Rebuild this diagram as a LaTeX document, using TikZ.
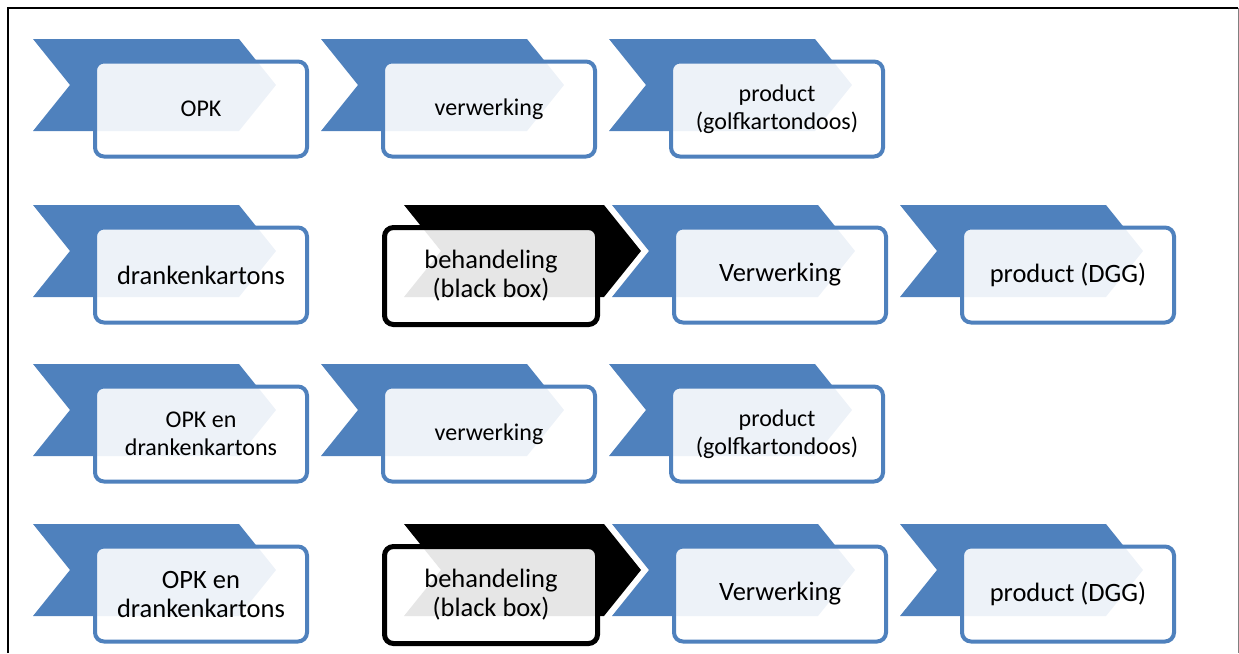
\documentclass[tikz,border=0pt]{standalone}
\usepackage{fontspec}
\setmainfont{Carlito}
\definecolor{accblue}{HTML}{4F81BD}
\tikzset{
  chevblue/.style={fill=accblue,draw=none},
  chevblack/.style={fill=black,draw=none},
  boxblue/.style={draw=accblue,line width=4pt,rounded corners=9pt,fill=white,fill opacity=0.9,text opacity=1,
     minimum width=212pt,minimum height=95pt,align=center,inner sep=2pt},
  boxblack/.style={boxblue,draw=black,line width=5pt,minimum width=213pt,minimum height=97pt},
  smalltxt/.style={font=\fontsize{24}{28}\selectfont},
  bigtxt/.style={font=\fontsize{26.5}{29}\selectfont},
}
% chevron: left x, top y, width
\newcommand{\mychev}[4]{%
  \fill[#4] (#1,#2) -- ({#1+#3-37},#2) -- ({#1+#3},{#2+46}) -- ({#1+#3-37},{#2+92}) -- (#1,{#2+92}) -- ({#1+37},{#2+46}) -- cycle;}
\begin{document}
\begin{tikzpicture}[x=1pt,y=-1pt]
\useasboundingbox (0,0) rectangle (1239,653);
% frame
\draw[black,line width=2pt] (8,653) coordinate (fbl) -- (8,8) coordinate (ftl) -- (1238,8) coordinate (ftr);
\draw[gray,line width=1pt] (ftr) -- (1238,653);
% row 1
\mychev{33}{39}{243}{chevblue}
\mychev{321}{39}{243}{chevblue}
\mychev{609}{39}{243}{chevblue}
\node[boxblue,smalltxt] (a1) at (201,109) {OPK};
\node[boxblue,smalltxt] (a2) at (489,109) {verwerking};
\node[boxblue,smalltxt] (a3) at (777,109) {product\\(golfkartondoos)};
% row 2
\mychev{33}{205}{243}{chevblue}
\mychev{404}{205}{237}{chevblack}
\mychev{612}{205}{243}{chevblue}
\mychev{900}{205}{243}{chevblue}
\node[boxblue,bigtxt] (b1) at (201,275) {drankenkartons};
\node[boxblack,bigtxt] (b2) at (491,276) {behandeling\\(black box)};
\node[boxblue,bigtxt] (b3) at (780,275) {Verwerking};
\node[boxblue,bigtxt] (b4) at (1068,275) {product (DGG)};
% row 3
\mychev{33}{364}{243}{chevblue}
\mychev{321}{364}{243}{chevblue}
\mychev{609}{364}{243}{chevblue}
\node[boxblue,smalltxt] (c1) at (201,434) {OPK en\\drankenkartons};
\node[boxblue,smalltxt] (c2) at (489,434) {verwerking};
\node[boxblue,smalltxt] (c3) at (777,434) {product\\(golfkartondoos)};
% row 4
\mychev{33}{524}{243}{chevblue}
\mychev{404}{524}{237}{chevblack}
\mychev{612}{524}{243}{chevblue}
\mychev{900}{524}{243}{chevblue}
\node[boxblue,bigtxt] (d1) at (201,594) {OPK en\\drankenkartons};
\node[boxblack,bigtxt] (d2) at (491,595) {behandeling\\(black box)};
\node[boxblue,bigtxt] (d3) at (780,594) {Verwerking};
\node[boxblue,bigtxt] (d4) at (1068,594) {product (DGG)};
\end{tikzpicture}
\end{document}
